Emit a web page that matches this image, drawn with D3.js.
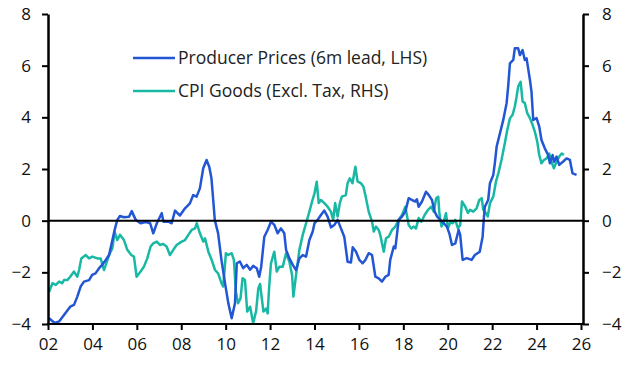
<!DOCTYPE html>
<html>
<head>
<meta charset="utf-8">
<script src="https://cdn.jsdelivr.net/npm/d3@7"></script>
<style>
  body { margin: 0; background: #fff; }
  text { font-family: "Open Sans", Lato, sans-serif; }
</style>
</head>
<body>
<div id="chart"></div>
<script>
// Producer prices (6m lead, LHS), % y/y - decimal year
const ppiDates = [2002.05,2002.3,2002.5,2002.72,2003.0,2003.17,2003.32,2003.47,2003.62,2003.85,2003.99,2004.14,2004.3,2004.44,2004.6,2004.75,2004.9,2005.0,2005.12,2005.24,2005.42,2005.65,2005.77,2005.95,2006.17,2006.4,2006.6,2006.74,2006.9,2007.12,2007.2,2007.42,2007.57,2007.72,2007.94,2008.17,2008.39,2008.54,2008.69,2008.84,2008.99,2009.14,2009.26,2009.36,2009.44,2009.51,2009.66,2009.81,2009.97,2010.12,2010.27,2010.42,2010.5,2010.64,2010.79,2010.95,2011.1,2011.24,2011.4,2011.51,2011.6,2011.74,2011.89,2012.04,2012.19,2012.34,2012.49,2012.64,2012.72,2012.87,2013.02,2013.17,2013.32,2013.47,2013.62,2013.77,2013.92,2014.0,2014.14,2014.29,2014.44,2014.59,2014.74,2014.89,2015.04,2015.19,2015.34,2015.49,2015.64,2015.72,2015.87,2016.02,2016.17,2016.29,2016.44,2016.59,2016.74,2016.89,2017.04,2017.19,2017.34,2017.41,2017.57,2017.64,2017.79,2017.94,2018.09,2018.24,2018.39,2018.54,2018.61,2018.69,2018.84,2019.02,2019.14,2019.29,2019.41,2019.52,2019.67,2019.82,2019.96,2020.07,2020.19,2020.34,2020.49,2020.56,2020.67,2020.86,2021.07,2021.22,2021.44,2021.57,2021.63,2021.67,2021.82,2021.9,2022.05,2022.12,2022.2,2022.35,2022.5,2022.65,2022.72,2022.8,2022.95,2023.02,2023.17,2023.25,2023.37,2023.47,2023.55,2023.7,2023.77,2023.85,2024.0,2024.12,2024.22,2024.37,2024.52,2024.6,2024.72,2024.79,2024.9,2025.02,2025.2,2025.35,2025.5,2025.62,2025.8];
const ppiValues = [-3.78,-3.96,-3.9,-3.65,-3.33,-3.26,-2.94,-2.55,-2.36,-2.3,-2.1,-2.04,-1.84,-1.71,-1.52,-1.33,-0.75,-0.36,0.03,0.18,0.13,0.15,0.37,0.03,-0.1,-0.05,-0.1,-0.49,-0.1,0.29,-0.04,-0.04,-0.1,0.39,0.2,0.48,0.67,0.99,0.93,1.25,2.03,2.35,2.09,1.64,0.8,0.03,-0.49,-1.52,-2.42,-3.2,-3.78,-3.2,-1.65,-1.58,-1.84,-1.71,-1.9,-1.75,-1.84,-2.17,-1.78,-0.62,-0.36,-0.04,-0.16,-0.49,-0.3,-0.49,-1.13,-1.46,-1.71,-1.91,-1.46,-1.33,-1.39,-0.75,-0.42,-0.1,0.03,0.22,0.39,0.16,-0.26,-0.17,0.03,-0.3,-0.62,-1.59,-1.62,-1.03,-1.2,-1.52,-1.65,-1.52,-1.26,-1.33,-2.17,-2.23,-2.36,-2.17,-2.1,-1.52,-1.0,-1.07,0.03,0.16,0.35,0.87,0.8,0.74,0.83,0.54,0.74,1.12,1.0,0.8,0.35,0.16,0.03,-0.1,-0.23,-0.49,-0.94,-0.88,-0.36,-0.55,-1.52,-1.45,-1.52,-1.33,-1.2,-0.62,0.16,0.54,0.8,1.45,1.77,2.22,2.86,3.38,3.9,4.55,5.19,6.09,6.22,6.67,6.67,6.41,6.6,6.22,6.28,5.45,5.0,3.9,3.97,3.64,3.12,2.8,2.54,2.22,2.54,2.28,2.48,2.16,2.29,2.41,2.35,1.83,1.77];

// CPI goods (excl. tax, RHS), % y/y - decimal year
const cpiDates = [2002.05,2002.2,2002.35,2002.5,2002.64,2002.72,2002.87,2003.0,2003.17,2003.32,2003.4,2003.5,2003.7,2003.85,2004.0,2004.22,2004.37,2004.52,2004.6,2004.75,2004.9,2005.0,2005.12,2005.24,2005.42,2005.57,2005.75,2005.87,2005.99,2006.17,2006.32,2006.47,2006.62,2006.74,2006.9,2007.04,2007.19,2007.34,2007.49,2007.64,2007.79,2008.02,2008.17,2008.32,2008.47,2008.62,2008.7,2008.84,2008.99,2009.07,2009.22,2009.37,2009.52,2009.66,2009.81,2009.89,2010.01,2010.12,2010.27,2010.37,2010.46,2010.56,2010.67,2010.76,2010.87,2010.97,2011.1,2011.24,2011.37,2011.47,2011.55,2011.7,2011.82,2011.89,2011.96,2012.04,2012.19,2012.3,2012.42,2012.57,2012.72,2012.87,2012.99,2013.05,2013.17,2013.32,2013.47,2013.62,2013.77,2013.89,2014.0,2014.1,2014.19,2014.29,2014.44,2014.59,2014.74,2014.84,2014.93,2015.04,2015.14,2015.23,2015.41,2015.49,2015.59,2015.71,2015.84,2015.94,2016.09,2016.2,2016.29,2016.44,2016.59,2016.67,2016.77,2016.89,2016.96,2017.12,2017.22,2017.34,2017.49,2017.64,2017.79,2017.94,2018.09,2018.24,2018.36,2018.47,2018.57,2018.69,2018.81,2018.96,2019.11,2019.26,2019.37,2019.48,2019.57,2019.63,2019.72,2019.82,2019.92,2020.01,2020.12,2020.22,2020.34,2020.46,2020.56,2020.64,2020.79,2020.91,2021.0,2021.15,2021.3,2021.42,2021.53,2021.6,2021.72,2021.8,2021.9,2022.05,2022.17,2022.28,2022.42,2022.57,2022.68,2022.8,2022.92,2023.02,2023.1,2023.17,2023.28,2023.37,2023.47,2023.58,2023.7,2023.82,2023.92,2024.03,2024.12,2024.22,2024.33,2024.45,2024.57,2024.67,2024.78,2024.9,2025.02,2025.13,2025.23];
const cpiValues = [-2.75,-2.42,-2.49,-2.36,-2.42,-2.3,-2.3,-2.17,-1.97,-2.17,-1.91,-1.46,-1.33,-1.46,-1.39,-1.46,-1.46,-1.91,-1.71,-1.33,-1.07,-0.42,-0.75,-0.55,-0.75,-1.13,-1.33,-1.39,-2.17,-1.97,-1.78,-1.46,-1.0,-0.88,-0.81,-0.94,-0.9,-1.0,-1.33,-1.13,-0.94,-0.81,-0.75,-0.55,-0.36,-0.3,-0.1,-0.49,-0.81,-0.68,-1.2,-1.52,-1.91,-2.04,-2.42,-2.55,-1.26,-1.33,-1.26,-1.52,-2.75,-3.2,-3.0,-2.23,-2.3,-3.52,-3.33,-3.97,-3.5,-2.62,-2.45,-3.52,-3.4,-3.59,-2.55,-1.65,-1.2,-1.97,-1.78,-1.78,-1.26,-1.59,-2.1,-2.94,-2.1,-1.13,-0.55,-0.1,0.35,0.74,1.06,1.51,0.68,0.8,0.68,0.54,0.35,0.03,0.68,0.16,0.68,0.93,0.99,1.45,1.64,1.45,2.09,1.51,1.45,1.32,0.99,0.35,-0.04,-0.42,-0.23,-0.36,-0.55,-1.2,-0.68,-0.62,-0.36,-0.23,0.03,0.22,0.54,-0.17,-0.3,-0.23,-0.3,0.1,-0.04,0.22,0.42,0.54,0.35,0.87,0.93,0.22,-0.23,-0.04,0.29,-0.3,-0.04,-0.1,0.03,-0.3,-0.17,0.74,0.54,0.3,0.42,0.35,0.48,0.8,0.87,0.42,0.29,0.16,0.67,0.93,1.51,1.84,2.35,3.0,3.51,3.96,4.1,4.42,4.8,5.19,5.38,4.61,4.55,4.16,3.97,3.71,3.45,3.06,2.54,2.22,2.35,2.41,2.6,2.28,2.03,2.28,2.48,2.6,2.54];

const yTicks = [-4, -2, 0, 2, 4, 6, 8];
const xTicks = [2002, 2004, 2006, 2008, 2010, 2012, 2014, 2016, 2018, 2020, 2022, 2024, 2026];
const seriesNames = ['Producer Prices (6m lead, LHS)', 'CPI Goods (Excl. Tax, RHS)'];
const seriesColors = ['#2356d4', '#18b8a5'];

const W = 640, H = 371;
const plotLeft = 48, plotRight = 583, plotTop = 14, plotBottom = 324;

const svg = d3.select('#chart').append('svg')
    .attr('width', W)
    .attr('height', H);

const x = d3.scaleLinear().domain([2002, 2026]).range([plotLeft, 581]);
const y = d3.scaleLinear().domain([-4, 8]).range([plotBottom, plotTop]);

const line = d3.line()
    .x(d => x(d[0]))
    .y(d => y(d[1]));

const ppi = ppiDates.map((d, i) => [d, ppiValues[i]]);
const cpi = cpiDates.map((d, i) => [d, cpiValues[i]]);

// series - CPI drawn first, PPI on top
svg.append('path')
    .datum(cpi)
    .attr('d', line)
    .attr('fill', 'none')
    .attr('stroke', seriesColors[1])
    .attr('stroke-width', 2.5)
    .attr('stroke-linejoin', 'round');

svg.append('path')
    .datum(ppi)
    .attr('d', line)
    .attr('fill', 'none')
    .attr('stroke', seriesColors[0])
    .attr('stroke-width', 2.5)
    .attr('stroke-linejoin', 'round');

// zero line
svg.append('line')
    .attr('x1', plotLeft).attr('x2', plotRight)
    .attr('y1', y(0)).attr('y2', y(0))
    .attr('stroke', '#000').attr('stroke-width', 2);

const fontSize = 17;

// axes
svg.append('g')
    .attr('transform', `translate(${plotLeft},0)`)
    .call(d3.axisLeft(y).tickValues(yTicks).tickSize(6).tickSizeOuter(0).tickPadding(11));

svg.append('g')
    .attr('transform', `translate(${plotRight},0)`)
    .call(d3.axisRight(y).tickValues(yTicks).tickSize(6).tickSizeOuter(0).tickPadding(13));

const xAxis = svg.append('g')
    .attr('transform', `translate(0,${plotBottom})`)
    .call(d3.axisBottom(x).tickValues(xTicks).tickSize(6).tickSizeOuter(0).tickPadding(8)
        .tickFormat(d => String(d).slice(2)));

xAxis.select('.domain').remove();
svg.append('line')
    .attr('x1', plotLeft - 1).attr('x2', plotRight + 1)
    .attr('y1', plotBottom).attr('y2', plotBottom)
    .attr('stroke', '#000').attr('stroke-width', 2);

svg.selectAll('.domain').attr('stroke-width', 2.5);
svg.selectAll('.tick line').attr('stroke-width', 2);
svg.selectAll('.tick text')
    .style('font-size', `${fontSize}px`)
    .style('font-family', '"Open Sans", sans-serif')
    .attr('fill', '#111');

// legend
const legend = svg.append('g');
seriesNames.forEach((name, i) => {
    const ly = 58 + i * 33;
    legend.append('line')
        .attr('x1', 133).attr('x2', 175)
        .attr('y1', ly).attr('y2', ly)
        .attr('stroke', seriesColors[i])
        .attr('stroke-width', 2.5);
    legend.append('text')
        .attr('x', 178)
        .attr('y', ly + 6)
        .text(name)
        .style('font-size', '17.5px')
        .attr('fill', '#222');
});
</script>
</body>
</html>
